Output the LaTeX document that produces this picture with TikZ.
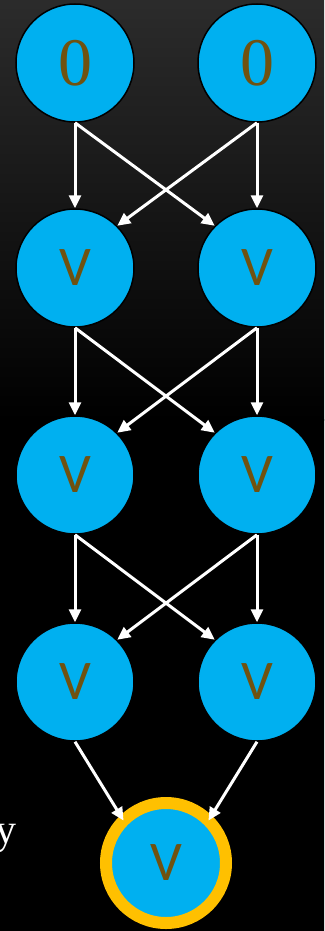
\documentclass[tikz,border=0pt]{standalone}
\usepackage{fontspec}
\setmainfont{Liberation Serif}
\newfontfamily\vfont{Carlito}
\usetikzlibrary{arrows.meta}
\definecolor{nodeblue}{RGB}{0,176,240}
\definecolor{labelbrown}{RGB}{112,82,16}
\definecolor{ringgold}{RGB}{255,192,0}
\definecolor{bgtop}{RGB}{44,44,44}
\tikzset{
  cell/.style={circle, fill=nodeblue, draw=black, line width=1.5pt,
    minimum size=118pt, inner sep=0pt, text=labelbrown},
  zerolabel/.style={font=\fontsize{68}{68}\selectfont},
  vlabel/.style={font=\vfont\fontsize{56}{56}\selectfont},
  goal/.style={cell, draw=ringgold, line width=12pt, minimum size=120pt, outer sep=0pt},
  flow/.style={draw=white, line width=3pt,
    -{Triangle[length=13pt,width=12pt]}}
}
\begin{document}
\begin{tikzpicture}[x=1pt,y=-1pt]
  % backdrop: dark grey fading to black
  \useasboundingbox (0,0) rectangle (324,931);
  \begin{scope}
    \clip (0,0) rectangle (324,931);
    \shade[top color=bgtop, bottom color=black] (-6,-6) rectangle (330,420);
    \fill[black] (-6,419) rectangle (330,937);
  \end{scope}

  % input row
  \node[cell, zerolabel] (a1) at (75,63) {0};
  \node[cell, zerolabel] (b1) at (257,63) {0};
  % hidden rows
  \node[cell, vlabel] (a2) at (75,268) {V};
  \node[cell, vlabel] (b2) at (257,268) {V};
  \node[cell, vlabel] (a3) at (75,475) {V};
  \node[cell, vlabel] (b3) at (257,475) {V};
  \node[cell, vlabel] (a4) at (75,682) {V};
  \node[cell, vlabel] (b4) at (257,682) {V};
  % output
  \node[goal, vlabel] (out) at (166,863) {V};

  % side text
  \node[text=white, font=\fontsize{42}{42}\selectfont, anchor=base east, inner sep=0pt] (side) at (17,843) {y};

  % connections between consecutive rows
  \foreach \u/\v in {1/2, 2/3, 3/4} {
    \draw[flow] (a\u.south) -- (a\v.north);
    \draw[flow] (b\u.south) -- (b\v.north);
    \draw[flow] (a\u.south) -- (b\v.north west);
    \draw[flow] (b\u.south) -- (a\v.north east);
  }
  \draw[flow] (a4.south) -- (out.north west);
  \draw[flow] (b4.south) -- (out.north east);
\end{tikzpicture}
\end{document}
